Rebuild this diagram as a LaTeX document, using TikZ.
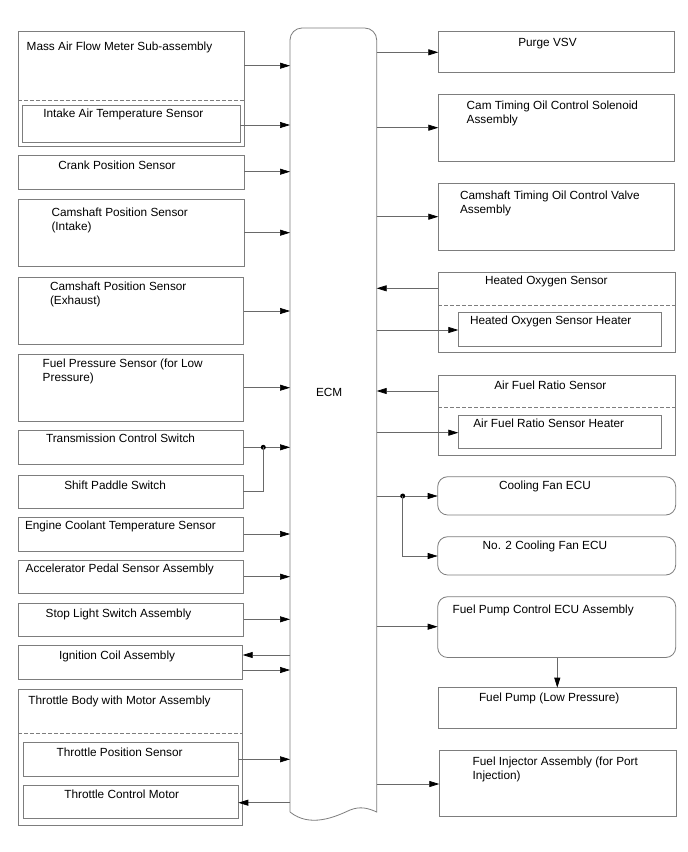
\documentclass[tikz,border=0pt]{standalone}
\usepackage{fontspec}
\setmainfont{Liberation Sans}
\usetikzlibrary{arrows.meta}
\definecolor{bord}{RGB}{125,125,125}
\definecolor{conn}{RGB}{105,105,105}
\tikzset{
  box/.style={draw=bord,line width=0.8pt,inner sep=0pt,outer sep=0pt,rectangle},
  rbox/.style={box,rounded corners=10pt},
  lbl/.style={inner sep=0pt,outer sep=0pt,anchor=base west,font=\fontsize{11.8}{14}\selectfont,align=left},
  arr/.style={draw=conn,line width=0.7pt,-{Triangle[length=10pt,width=6pt,fill=black,color=black]}},
  ln/.style={draw=conn,line width=0.7pt},
  dsh/.style={draw=bord,line width=0.8pt,dash pattern=on 4pt off 2pt},
  dot/.style={circle,fill=black,inner sep=0pt,outer sep=0pt,minimum size=5pt}
}
\newcommand\bx[6][]{\node[box,#1,minimum width={(#5-#3)*1pt},minimum height={(#6-#4)*1pt},anchor=north west] (#2) at (#3,#4) {};}
\newcommand\harr[3]{\draw[arr] (#1 |- 0,#3) -- (#2 |- 0,#3);}
\begin{document}
\begin{tikzpicture}[x=1pt,y=-1pt]
\useasboundingbox[fill=white] (0,0) rectangle (688,852);
% ECM
\node[inner sep=0pt,outer sep=0pt,minimum width=86.7pt,minimum height=784pt,anchor=north west] (ecm) at (290,28) {};
\draw[bord,line width=0.8pt] (290,812) [rounded corners=12pt] -- (290,28) -- (376.7,28) [sharp corners] -- (376.7,812)
  .. controls (368,808) and (360,806) .. (350,810)
  .. controls (335,817) and (310,828) .. (290,812);
\node[lbl] (ecmt) at (316,396.7) {ECM};
% left boxes
\bx{maf}{18}{31.7}{244}{146}
\draw[dsh] (18,100) -- (244,100);
\bx{iat}{22}{105}{240}{142.7}
\bx{crank}{18}{155}{244}{189}
\bx{cami}{18}{199}{244}{266}
\bx{came}{18}{277.7}{243.7}{344}
\bx{fps}{18}{354}{243.5}{421}
\bx{trans}{18}{430.7}{243}{464}
\bx{shift}{18}{475.7}{243}{508.3}
\bx{ect}{18}{517}{243.5}{551}
\bx{acc}{18}{560}{243.5}{593}
\bx{stop}{18}{603}{243.5}{636}
\bx{ign}{18}{645.7}{242.7}{679}
\bx{tb}{18.3}{689}{242.7}{825}
\draw[dsh] (18.3,733) -- (242.7,733);
\bx{tps}{23.3}{742.7}{238.3}{776}
\bx{tcm}{23.3}{785}{238.3}{818.3}
% right boxes
\bx{purge}{438.3}{31.7}{674.3}{72.3}
\bx{ctoc}{438.3}{94}{674.3}{161}
\bx{ocv}{438.3}{183.3}{674.3}{250}
\bx{hos}{438.3}{272.3}{675.7}{352.3}
\draw[dsh] (438.3,305) -- (675.7,305);
\bx{hosh}{458.3}{312.3}{661.7}{346}
\bx{afr}{438.3}{375}{675.7}{455}
\draw[dsh] (438.3,407.3) -- (675.7,407.3);
\bx{afrh}{458.3}{415}{661.7}{448.3}
\bx[rbox]{fan}{437.7}{476.7}{675.7}{515}
\bx[rbox]{fan2}{437.7}{536.7}{675.7}{575}
\bx[rbox]{fpc}{437.7}{596.7}{675.7}{657.5}
\bx{fp}{438.3}{687.7}{676}{728.3}
\bx{fi}{439.3}{750}{676}{816.7}
% labels left
\node[lbl] at (26.7,50.5) {Mass Air Flow Meter Sub-assembly};
\node[lbl] at (43.3,117.7) {Intake Air Temperature Sensor};
\node[lbl] at (58.3,169.3) {Crank Position Sensor};
\node[lbl] at (51.5,230) {Camshaft Position Sensor\\(Intake)};
\node[lbl] at (50,304.7) {Camshaft Position Sensor\\(Exhaust)};
\node[lbl] at (42.7,381.7) {Fuel Pressure Sensor (for Low\\Pressure)};
\node[lbl] at (46,442.7) {Transmission Control Switch};
\node[lbl] at (64.3,489.3) {Shift Paddle Switch};
\node[lbl] at (25,529) {Engine Coolant Temperature Sensor};
\node[lbl] at (25.7,572.3) {Accelerator Pedal Sensor Assembly};
\node[lbl] at (45.7,617.3) {Stop Light Switch Assembly};
\node[lbl] at (59,659.3) {Ignition Coil Assembly};
\node[lbl] at (28.3,704.3) {Throttle Body with Motor Assembly};
\node[lbl] at (56.7,756) {Throttle Position Sensor};
\node[lbl] at (64.3,798.3) {Throttle Control Motor};
% labels right
\node[lbl] at (518.3,46.7) {Purge VSV};
\node[lbl] at (466.7,123.3) {Cam Timing Oil Control Solenoid\\Assembly};
\node[lbl] at (460,213) {Camshaft Timing Oil Control Valve\\Assembly};
\node[lbl] at (485,284) {Heated Oxygen Sensor};
\node[lbl] at (470,324.3) {Heated Oxygen Sensor Heater};
\node[lbl] at (494.3,389) {Air Fuel Ratio Sensor};
\node[lbl] at (473.3,427.3) {Air Fuel Ratio Sensor Heater};
\node[lbl] at (499,489) {Cooling Fan ECU};
\node[lbl] at (482.7,549.3) {No. 2 Cooling Fan ECU};
\node[lbl] at (452.7,613.3) {Fuel Pump Control ECU Assembly};
\node[lbl] at (479,701) {Fuel Pump (Low Pressure)};
\node[lbl] at (472.7,779) {Fuel Injector Assembly (for Port\\Injection)};
% left connectors
\harr{maf.east}{ecm.west}{65.7}
\harr{iat.east}{ecm.west}{125}
\harr{crank.east}{ecm.west}{171.7}
\harr{cami.east}{ecm.west}{232.7}
\harr{came.east}{ecm.west}{311}
\harr{fps.east}{ecm.west}{387.7}
\harr{trans.east}{ecm.west}{447.3}
\node[dot] (j1) at (263.3,447.3) {};
\draw[ln] (shift.east |- 0,491.7) -| (j1.center);
\harr{ect.east}{ecm.west}{534}
\harr{acc.east}{ecm.west}{576.7}
\harr{stop.east}{ecm.west}{619.3}
\harr{ecm.west}{ign.east}{655}
\harr{ign.east}{ecm.west}{670}
\harr{tps.east}{ecm.west}{759.3}
\harr{ecm.west}{tcm.east}{802.7}
% right connectors
\harr{ecm.east}{purge.west}{52.3}
\harr{ecm.east}{ctoc.west}{127.7}
\harr{ecm.east}{ocv.west}{216.7}
\harr{hos.west}{ecm.east}{288.3}
\harr{ecm.east}{hosh.west}{330}
\harr{afr.west}{ecm.east}{391}
\harr{ecm.east}{afrh.west}{432.7}
\harr{ecm.east}{fan.west}{496}
\node[dot] (j2) at (402.7,496) {};
\draw[arr] (j2.center) |- (fan2.west |- 0,556);
\harr{ecm.east}{fpc.west}{626.7}
\draw[arr] (fpc.south -| 557.3,0) -- (fp.north -| 557.3,0);
\harr{ecm.east}{fi.west}{784}
\end{tikzpicture}
\end{document}
